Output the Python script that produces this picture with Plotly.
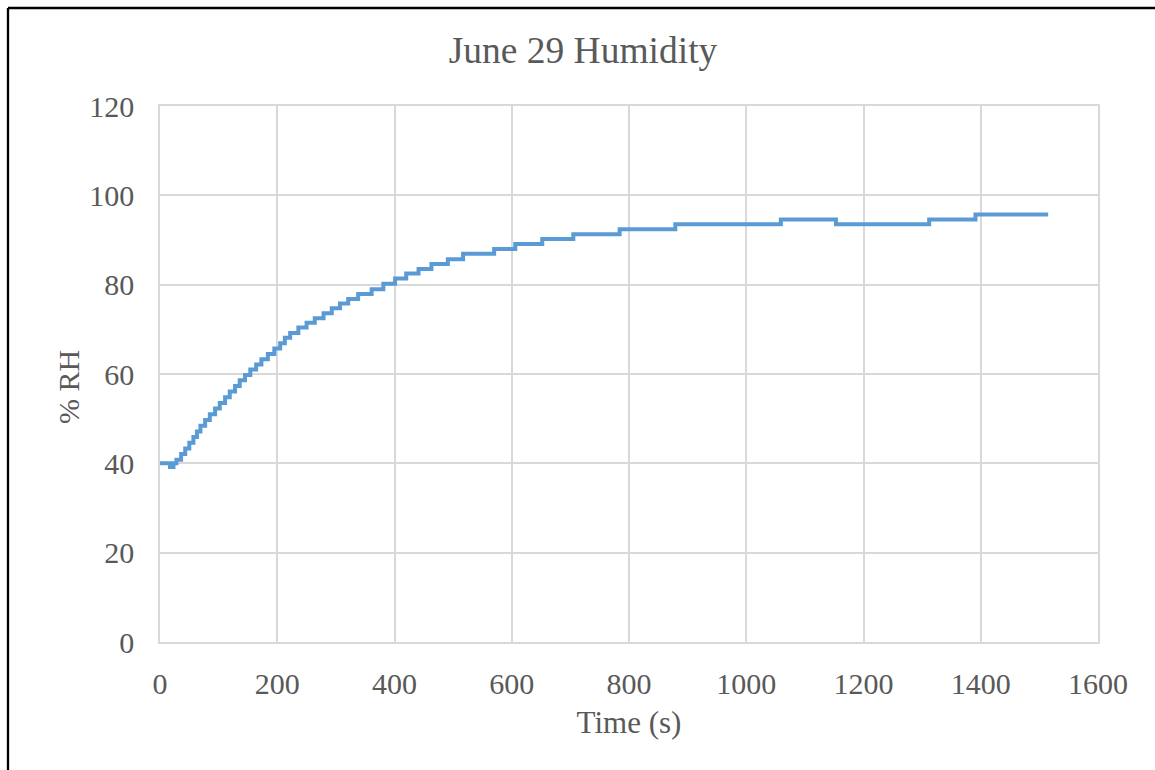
import plotly.graph_objects as go

# Time (s) at which each new reading starts, and the reading (% RH)
time_s = [0, 17, 23, 28, 36, 43, 50, 57, 63, 69, 77, 85, 94, 102, 111, 119, 128, 136,
          145, 154, 164, 173, 184, 195, 205, 213, 222, 236, 250, 264, 279, 293, 307,
          321, 338, 361, 381, 401, 420, 441, 463, 491, 517, 570, 606, 652, 705, 784,
          879, 1059, 1153, 1312, 1391, 1515]
rh = [40.0, 39.2, 40.0, 40.8, 42.1, 43.3, 44.6, 45.9, 47.1, 48.4, 49.7, 51.0, 52.3,
      53.5, 54.8, 56.1, 57.3, 58.6, 59.8, 61.0, 62.1, 63.3, 64.5, 65.7, 66.9, 68.1,
      69.2, 70.4, 71.5, 72.5, 73.6, 74.7, 75.8, 76.8, 77.9, 79.0, 80.2, 81.4, 82.5,
      83.5, 84.6, 85.7, 86.9, 88.0, 89.1, 90.2, 91.3, 92.4, 93.5, 94.6, 93.5, 94.6,
      95.7, 95.7]

x_ticks = [0, 200, 400, 600, 800, 1000, 1200, 1400, 1600]
y_ticks = [0, 20, 40, 60, 80, 100, 120]

FONT = "Liberation Serif, Times New Roman, serif"
TXT = "#595959"
GRID = "#D9D9D9"

fig = go.Figure()
fig.add_trace(go.Scatter(x=time_s, y=rh, mode="lines", line_shape="hv",
                         line=dict(color="#5B9BD5", width=4), showlegend=False))

W, H = 1155, 770
L, R, T, B = 160, 57, 106, 128
pw, ph = W - L - R, H - T - B

def px_x(p):
    return (p - L) / pw

def px_y(p):
    return (H - B - p) / ph

fig.update_layout(
    width=W, height=H,
    margin=dict(l=L, r=R, t=T, b=B, pad=0),
    paper_bgcolor="white", plot_bgcolor="white",
    font=dict(family=FONT, color=TXT, size=30),
    title=dict(text="June 29 Humidity", x=(447 + 719) / 2 / W, xanchor="center",
               y=1 - 50 / H, yanchor="middle", yref="container",
               font=dict(family=FONT, size=37.5, color=TXT)),
    xaxis=dict(range=[0, 1600], tickvals=x_ticks, showgrid=True, gridcolor=GRID,
               gridwidth=1.5, zeroline=False, showline=True, linecolor=GRID,
               linewidth=1.5, mirror=True, ticks="", ticklabelstandoff=14,
               tickfont=dict(size=30, color=TXT),
               title=dict(text="Time (s)", standoff=13, font=dict(size=31, color=TXT))),
    yaxis=dict(range=[0, 120], tickvals=y_ticks, showgrid=True, gridcolor=GRID,
               gridwidth=1.5, zeroline=False, showline=True, linecolor=GRID,
               linewidth=1.5, mirror=True, ticks="", ticklabelstandoff=18,
               tickfont=dict(size=30, color=TXT)),
    annotations=[
        dict(text="% RH", xref="paper", yref="paper", x=px_x(68), y=px_y(387),
             xanchor="center", yanchor="middle", textangle=-90, showarrow=False,
             font=dict(family=FONT, size=30, color=TXT)),
    ],
    shapes=[
        dict(type="line", xref="paper", yref="paper", x0=px_x(8), x1=px_x(W + 5),
             y0=px_y(8), y1=px_y(8), line=dict(color="black", width=2.3)),
        dict(type="line", xref="paper", yref="paper", x0=px_x(8), x1=px_x(8),
             y0=px_y(8), y1=px_y(H + 5), line=dict(color="black", width=2.3)),
    ],
)

fig.write_html("out.html")
